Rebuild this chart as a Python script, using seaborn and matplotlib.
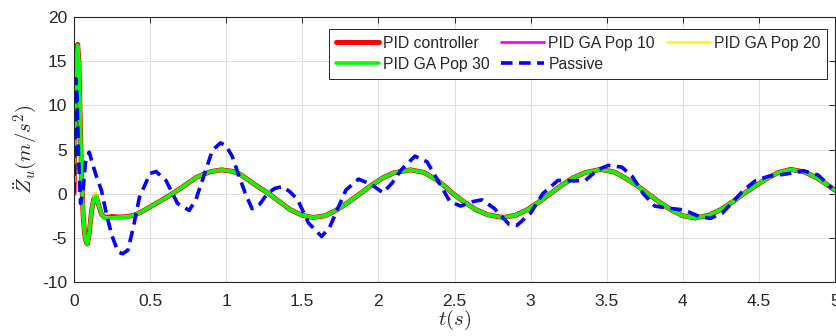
import numpy as np
import pandas as pd
import matplotlib
matplotlib.use("Agg")
import matplotlib.pyplot as plt
import seaborn as sns

# ---- data ----
t_ctrl = [0, 0.008, 0.016, 0.024, 0.032, 0.04, 0.05, 0.06, 0.07, 0.08, 0.088,
          0.1, 0.115, 0.13, 0.143, 0.16, 0.18, 0.2, 0.25, 0.3, 0.35, 0.4, 0.45,
          0.5, 0.55, 0.6, 0.65, 0.7, 0.75, 0.8, 0.85, 0.9, 0.97, 1.05, 1.1, 1.15,
          1.2, 1.28, 1.35, 1.42, 1.5, 1.57, 1.65, 1.72, 1.8, 1.88, 1.95, 2.03,
          2.1, 2.21, 2.3, 2.38, 2.44, 2.49, 2.56, 2.64, 2.72, 2.82, 2.9, 2.98,
          3.05, 3.13, 3.2, 3.28, 3.36, 3.46, 3.55, 3.62, 3.7, 3.77, 3.85, 3.93,
          4.0, 4.08, 4.17, 4.25, 4.33, 4.4, 4.48, 4.56, 4.63, 4.71, 4.8, 4.88,
          4.95, 5.0]
pid = [0, 8, 15, 16.9, 15, 9, 2, -2.5, -4.6, -5.5, -5.7,
       -4.5, -2, -0.6, -0.2, -1.2, -2.3, -2.7, -2.6, -2.65, -2.6, -2.4, -2.0,
       -1.5, -1.0, -0.5, 0.05, 0.6, 1.2, 1.8, 2.2, 2.5, 2.7, 2.5, 2.1, 1.5,
       0.9, 0, -0.9, -1.8, -2.45, -2.7, -2.5, -1.9, -1.0, 0, 0.9, 1.8,
       2.35, 2.7, 2.4, 1.6, 0.8, 0, -0.9, -1.8, -2.4, -2.7, -2.45, -1.8,
       -1.0, 0, 0.9, 1.8, 2.4, 2.75, 2.45, 1.8, 0.9, 0, -1.0, -1.9,
       -2.5, -2.75, -2.45, -1.8, -0.9, 0, 0.9, 1.8, 2.4, 2.75, 2.45, 1.8,
       1.0, 0.4]
ga_pop10 = [0, 8, 15, 16.8, 15, 9, 2, -2.5, -4.6, -5.5, -5.7,
            -4.5, -2, -0.6, -0.3, -1.2, -2.3, -2.7, -2.7, -2.65, -2.6, -2.4, -2.0,
            -1.5, -1.0, -0.5, 0.05, 0.6, 1.2, 1.8, 2.2, 2.5, 2.7, 2.5, 2.1, 1.5,
            0.9, 0, -0.9, -1.8, -2.45, -2.7, -2.5, -1.9, -1.0, 0, 0.9, 1.8,
            2.35, 2.7, 2.4, 1.6, 0.8, 0, -0.9, -1.8, -2.4, -2.7, -2.45, -1.8,
            -1.0, 0, 0.9, 1.8, 2.4, 2.75, 2.45, 1.8, 0.9, 0, -1.0, -1.9,
            -2.5, -2.75, -2.45, -1.8, -0.9, 0, 0.9, 1.8, 2.4, 2.75, 2.45, 1.8,
            1.0, 0.4]
ga_pop20 = [0, 8, 15, 16.8, 15, 9, 2, -2.5, -4.6, -5.5, -5.7,
            -4.5, -2, -0.5, 0.1, -1.2, -2.3, -2.7, -2.7, -2.65, -2.6, -2.4, -2.0,
            -1.5, -1.0, -0.5, 0.05, 0.6, 1.2, 1.8, 2.2, 2.5, 2.7, 2.5, 2.1, 1.5,
            0.9, 0, -0.9, -1.8, -2.45, -2.7, -2.5, -1.9, -1.0, 0, 0.9, 1.8,
            2.35, 2.7, 2.4, 1.6, 0.8, 0, -0.9, -1.8, -2.4, -2.7, -2.45, -1.8,
            -1.0, 0, 0.9, 1.8, 2.4, 2.75, 2.45, 1.8, 0.9, 0, -1.0, -1.9,
            -2.5, -2.75, -2.45, -1.8, -0.9, 0, 0.9, 1.8, 2.4, 2.75, 2.45, 1.8,
            1.0, 0.4]
ga_pop30 = [0, 8, 15, 16.8, 15, 9, 2, -2.5, -4.6, -5.5, -5.7,
            -4.5, -2, -0.6, -0.3, -1.2, -2.3, -2.8, -2.75, -2.7, -2.65, -2.4, -2.0,
            -1.5, -1.0, -0.5, 0.05, 0.6, 1.2, 1.8, 2.2, 2.5, 2.7, 2.5, 2.1, 1.5,
            0.9, 0, -0.9, -1.8, -2.45, -2.7, -2.5, -1.9, -1.0, 0, 0.9, 1.8,
            2.35, 2.7, 2.4, 1.6, 0.8, 0, -0.9, -1.8, -2.4, -2.7, -2.45, -1.8,
            -1.0, 0, 0.9, 1.8, 2.4, 2.75, 2.45, 1.8, 0.9, 0, -1.0, -1.9,
            -2.5, -2.75, -2.45, -1.8, -0.9, 0, 0.9, 1.8, 2.4, 2.75, 2.45, 1.8,
            1.0, 0.4]

t_pass = [0, 0.006, 0.013, 0.02, 0.03, 0.043, 0.06, 0.075, 0.1, 0.12, 0.148,
          0.18, 0.213, 0.25, 0.29, 0.32, 0.354, 0.39, 0.43, 0.5, 0.54, 0.604,
          0.68, 0.757, 0.8, 0.843, 0.909, 0.963, 1.0, 1.04, 1.08, 1.126, 1.17,
          1.22, 1.27, 1.32, 1.37, 1.42, 1.47, 1.54, 1.627, 1.68, 1.725, 1.786,
          1.87, 1.957, 2.03, 2.09, 2.15, 2.24, 2.32, 2.40, 2.47, 2.54, 2.62,
          2.68, 2.76, 2.86, 2.91, 3.0, 3.08, 3.18, 3.28, 3.36, 3.44, 3.51, 3.6,
          3.67, 3.74, 3.815, 3.91, 4.01, 4.11, 4.18, 4.26, 4.33, 4.40, 4.48,
          4.57, 4.67, 4.79, 4.89, 4.98]
passive = [0, 6, 13, 11, 4, -1.1, 0.5, 3.5, 4.7, 3.5, 1.9,
           0.4, -2.3, -4.8, -6.6, -6.8, -6.4, -3.8, -0.4, 2.3, 2.5, 1.5,
           -1.1, -1.9, -0.7, 1.5, 4.9, 5.75, 5.4, 4.2, 2.2, 0, -1.7,
           -1.2, 0, 0.6, 0.8, 0.2, -0.7, -3.3, -4.85, -3.8, -2.0, 0.4,
           1.65, 1.0, 0.1, 1.2, 2.7, 4.25, 3.6, 1.2, -0.9, -1.4, -0.9,
           -0.7, -1.65, -3.5, -3.6, -2.2, 0, 1.5, 1.45, 1.5, 2.7, 3.2, 3.0,
           1.9, 0, -1.4, -1.65, -1.85, -2.6, -2.8, -2.2, -0.9, 0.4, 1.5,
           2.0, 2.2, 2.6, 2.1, 0.6]

x_ticks = [0, 0.5, 1, 1.5, 2, 2.5, 3, 3.5, 4, 4.5, 5]
x_tick_labels = ["0", "0.5", "1", "1.5", "2", "2.5", "3", "3.5", "4", "4.5", "5"]
y_ticks = [-10, -5, 0, 5, 10, 15, 20]
y_tick_labels = ["-10", "-5", "0", "5", "10", "15", "20"]

# ---- style ----
sns.set_style("white")
plt.rcParams["font.family"] = ["Liberation Sans", "DejaVu Sans"]
plt.rcParams["mathtext.fontset"] = "cm"

fig = plt.figure(figsize=(8.36, 3.36), dpi=100)
ax = fig.add_axes([74 / 836, 1 - 282 / 336, (835 - 74) / 836, (282 - 17) / 336])

df_ctrl = pd.DataFrame({"t": t_ctrl, "pid": pid, "p10": ga_pop10,
                        "p20": ga_pop20, "p30": ga_pop30})
df_pass = pd.DataFrame({"t": t_pass, "passive": passive})

h_pid = sns.lineplot(data=df_ctrl, x="t", y="pid", ax=ax, color="#FF0000",
                     lw=3.6, estimator=None, sort=False).lines[-1]
h10 = sns.lineplot(data=df_ctrl, x="t", y="p10", ax=ax, color="#FF00FF",
                   lw=2.0, estimator=None, sort=False).lines[-1]
h20 = sns.lineplot(data=df_ctrl, x="t", y="p20", ax=ax, color="#FFFF00",
                   lw=2.0, estimator=None, sort=False).lines[-1]
h30 = sns.lineplot(data=df_ctrl, x="t", y="p30", ax=ax, color="#00FF00",
                   lw=2.6, estimator=None, sort=False).lines[-1]
hp = sns.lineplot(data=df_pass, x="t", y="passive", ax=ax, color="#0000FF",
                  lw=2.6, estimator=None, sort=False).lines[-1]
hp.set_dashes((3.2, 1.8))

ax.set_xlim(0, 5)
ax.set_ylim(-10, 20)
ax.set_xticks(x_ticks)
ax.set_xticklabels(x_tick_labels)
ax.set_yticks(y_ticks)
ax.set_yticklabels(y_tick_labels)
ax.tick_params(axis="both", direction="in", length=4, width=0.7,
               labelsize=12.5, colors="#262626", top=True, right=True)
ax.tick_params(axis="x", pad=8.5)
ax.tick_params(axis="y", pad=5)
ax.grid(True, color="#DFDFDF", lw=0.8)
for s in ax.spines.values():
    s.set_color("#262626")
    s.set_linewidth(0.8)

ax.set_xlabel(r"$t(s)$", fontsize=15, color="#262626", labelpad=-0.5)
ax.set_ylabel(r"$\ddot{Z}_u(m/s^2)$", fontsize=15, color="#262626", labelpad=2)

handles = [h_pid, h30, h10, hp, h20]
labels = ["PID controller", "PID GA Pop 30", "PID GA Pop 10", "Passive",
          "PID GA Pop 20"]
leg = ax.legend(handles, labels, ncol=3, loc="upper right",
                bbox_to_anchor=(0.99, 0.955), borderaxespad=0,
                fontsize=11.3, handlelength=2.75, handletextpad=0.25,
                columnspacing=0.75, labelspacing=0.38, borderpad=0.45,
                fancybox=False, framealpha=1, edgecolor="#262626")
leg.get_frame().set_linewidth(0.7)

fig.savefig("out.png", dpi=100)
